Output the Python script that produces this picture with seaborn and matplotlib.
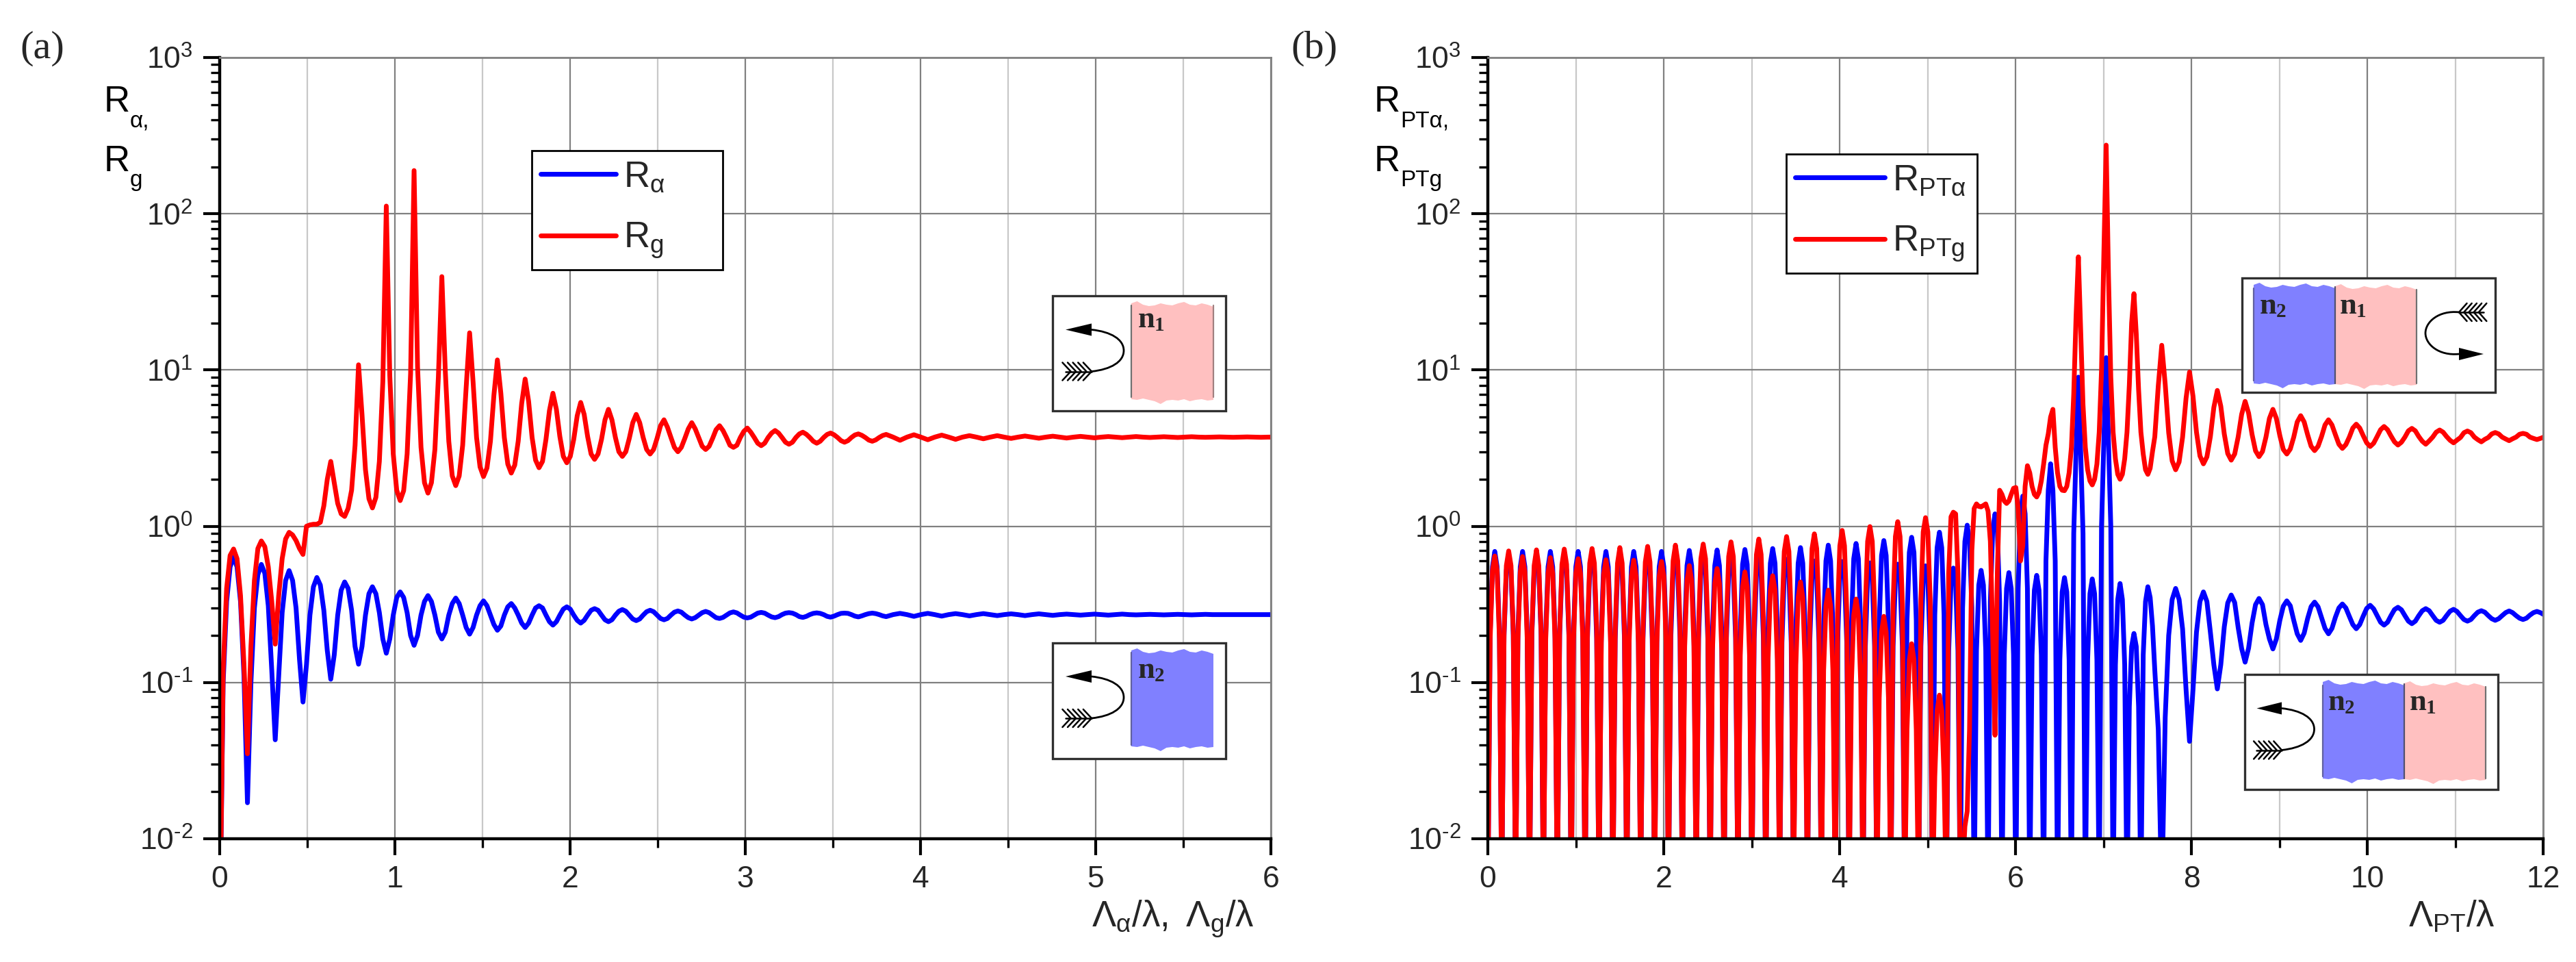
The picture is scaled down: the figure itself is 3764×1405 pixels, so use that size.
from matplotlib.path import Path as MplPath
from matplotlib.patches import PathPatch, Rectangle
from matplotlib.ticker import LogLocator, MultipleLocator, NullFormatter
import matplotlib
matplotlib.use("Agg")
import matplotlib.pyplot as plt
import numpy as np
import seaborn as sns

W, H = 3764, 1405
BLUE, RED = "#0000ff", "#ff0000"

y_ticks = [1e-2, 1e-1, 1e0, 1e1, 1e2, 1e3]
y_tick_labels = [r"$\mathregular{10^{\text{-}2}}$", r"$\mathregular{10^{\text{-}1}}$", r"$\mathregular{10^{0}}$",
                 r"$\mathregular{10^{1}}$", r"$\mathregular{10^{2}}$", r"$\mathregular{10^{3}}$"]
x_ticks_a = [0, 1, 2, 3, 4, 5, 6]
x_ticks_b = [0, 2, 4, 6, 8, 10, 12]

# panel (a), one row per oscillation, 8 samples each up to x = 3.804, then 4 each
r_alpha = [
    .002, .10, .33, .55, .635, .55, .33, .11,
    .017, .10, .30, .49, .57, .50, .31, .12,
    .043, .11, .28, .45, .52, .45, .30, .14,
    .075, .13, .27, .41, .47, .42, .29, .16,
    .105, .15, .27, .39, .44, .40, .29, .17,
    .131, .17, .27, .37, .41, .37, .28, .19,
    .154, .19, .27, .35, .38, .35, .28, .20,
    .173, .20, .27, .33, .36, .33, .27, .21,
    .19, .21, .27, .32, .347, .32, .27, .225,
    .204, .225, .27, .31, .333, .31, .27, .235,
    .216, .23, .27, .305, .32, .30, .27, .24,
    .225, .24, .27, .30, .31, .30, .27, .245,
    .233, .245, .27, .295, .305, .295, .27, .25,
    .24, .25, .27, .29, .297, .29, .27, .252,
    .245, .252, .27, .286, .293, .286, .27, .255,
    .249, .255, .27, .284, .29, .284, .27, .257,
    .252, .257, .27, .282, .287, .282, .27, .26,
    .255, .26, .27, .28, .285, .28, .27, .26,
    .257, .261, .27, .279, .283, .279, .27, .262,
    .259, .262, .27, .278, .281, .278, .27, .263,
    .26, .264, .272, .278, .28, .278, .272, .264,
    .261, .265, .272, .277, .279, .277, .272, .265,
    .262, .266, .272, .277, .278, .277, .272, .266,
    .263, .267, .272, .276, .278, .276, .272, .267,
]
r_alpha_tail = [
    .264, .272, .277, .272, .265, .272, .277, .272, .266, .272, .276, .272,
    .267, .272, .276, .272, .268, .272, .275, .272, .268, .272, .275, .272,
    .269, .272, .274, .272, .27, .272, .274, .272, .27, .272, .274, .272,
    .271, .272, .273, .272, .271, .272, .273, .272, .271, .272, .273, .272,
    .272, .272, .272, .272, .272, .272, .272, .272, .272,
]
r_g = [
    .002, .12, .40, .65, .715, .62, .36, .13,
    .035, .17, .45, .72, .805, .74, .55, .33,
    .176, .36, .62, .83, .914, .88, .81, .72,
    .66, 1.0, 1.02, 1.03, 1.03, 1.06, 1.35, 2.0,
    2.6, 1.9, 1.4, 1.2, 1.156, 1.3, 1.7, 3.3,
    10.8, 5.2, 2.3, 1.5, 1.31, 1.53, 2.6, 8.4,
    112, 9.2, 2.9, 1.7, 1.46, 1.69, 2.9, 9.5,
    189, 10.5, 3.2, 1.9, 1.63, 1.9, 3.1, 9,
    39.6, 9.8, 3.5, 2.1, 1.82, 2.1, 3.3, 7.7,
    17.3, 8.4, 3.7, 2.4, 2.08, 2.36, 3.5, 6.9,
    11.6, 7.1, 3.7, 2.5, 2.19, 2.46, 3.5, 6.1,
    8.75, 6.3, 3.7, 2.65, 2.37, 2.6, 3.6, 5.5,
    7.1, 5.6, 3.75, 2.8, 2.55, 2.8, 3.6, 5.1,
    6.2, 5.2, 3.75, 2.9, 2.68, 2.9, 3.6, 4.8,
    5.6, 4.8, 3.7, 3.0, 2.8, 3.0, 3.65, 4.6,
    5.2, 4.6, 3.7, 3.1, 2.9, 3.1, 3.65, 4.4,
    4.8, 4.3, 3.7, 3.2, 3.0, 3.2, 3.65, 4.2,
    4.6, 4.2, 3.7, 3.25, 3.1, 3.25, 3.65, 4.15,
    4.4, 4.1, 3.7, 3.3, 3.2, 3.3, 3.7, 4.05,
    4.25, 4.0, 3.7, 3.4, 3.28, 3.4, 3.7, 3.95,
    4.1, 3.95, 3.7, 3.45, 3.35, 3.45, 3.7, 3.9,
    4.0, 3.88, 3.7, 3.5, 3.4, 3.5, 3.7, 3.87,
    3.95, 3.85, 3.7, 3.53, 3.45, 3.53, 3.7, 3.84,
    3.9, 3.82, 3.7, 3.56, 3.5, 3.57, 3.7, 3.81,
]
r_g_tail = [
    3.87, 3.72, 3.55, 3.72, 3.85, 3.72, 3.58, 3.72, 3.83, 3.72, 3.6, 3.72,
    3.8, 3.72, 3.63, 3.72, 3.8, 3.72, 3.65, 3.72, 3.78, 3.72, 3.66, 3.72,
    3.77, 3.72, 3.67, 3.72, 3.76, 3.72, 3.68, 3.72, 3.75, 3.72, 3.69, 3.72,
    3.75, 3.72, 3.7, 3.72, 3.74, 3.72, 3.7, 3.72, 3.74, 3.72, 3.71, 3.72,
    3.73, 3.72, 3.71, 3.72, 3.73, 3.72, 3.71, 3.72, 3.72,
]

# panel (b), one row per arch, 6 samples each up to x = 7.584, then 8 per period
r_pt_alpha = [
    .004, .21, .55, .69, .55, .21,
    .004, .2, .52, .65, .52, .2,
    .004, .21, .55, .69, .55, .21,
    .004, .2, .52, .65, .52, .2,
    .004, .21, .55, .69, .55, .21,
    .004, .2, .52, .65, .52, .2,
    .004, .21, .55, .69, .55, .21,
    .004, .19, .52, .645, .52, .19,
    .004, .21, .55, .69, .55, .21,
    .004, .19, .51, .64, .51, .19,
    .004, .21, .55, .69, .55, .21,
    .004, .19, .51, .64, .51, .19,
    .004, .21, .55, .69, .55, .21,
    .004, .19, .51, .64, .51, .19,
    .004, .21, .56, .70, .56, .21,
    .004, .19, .51, .635, .51, .19,
    .004, .21, .56, .705, .56, .21,
    .004, .19, .5, .63, .5, .19,
    .004, .21, .57, .71, .57, .21,
    .004, .19, .5, .625, .5, .19,
    .004, .22, .58, .72, .58, .22,
    .004, .18, .49, .615, .49, .18,
    .004, .22, .58, .73, .58, .22,
    .004, .18, .48, .60, .48, .18,
    .004, .23, .6, .757, .6, .23,
    .004, .18, .48, .595, .48, .18,
    .004, .23, .62, .776, .62, .23,
    .004, .17, .47, .583, .47, .17,
    .004, .24, .65, .81, .65, .24,
    .004, .17, .46, .572, .46, .17,
    .004, .25, .68, .85, .68, .25,
    .004, .17, .45, .558, .45, .17,
    .004, .27, .73, .916, .73, .27,
    .004, .16, .43, .54, .43, .16,
    .004, .3, .8, 1.016, .8, .3,
    .004, .16, .42, .522, .42, .16,
    .004, .33, .95, 1.2, .95, .33,
    .004, .15, .4, .505, .4, .15,
    .004, .4, 1.2, 1.56, 1.2, .4,
    .004, .15, .39, .485, .39, .15,
    .004, .6, 1.7, 2.51, 1.7, .6,
    .004, .14, .38, .469, .38, .14,
    .004, .9, 3.0, 9.0, 3.0, .9,
    .004, .14, .37, .46, .37, .14,
    .004, 1.0, 3.5, 12, 3.5, 1.0,
    .004, .13, .34, .43, .34, .13,
    .004, .07, .17, .206, .17, .07,
    .004, .15, .33, .41, .35, .23,
]
r_pt_alpha_tail = [
    .12, .05, .004, .06, .2, .34, .40, .34,
    .22, .09, .042, .09, .21, .33, .38, .33,
    .21, .13, .091, .13, .227, .323, .363, .325,
    .225, .165, .135, .166, .24, .315, .345, .315,
    .235, .19, .164, .19, .25, .308, .333, .31,
    .25, .205, .186, .207, .257, .306, .327, .305,
    .26, .222, .205, .222, .262, .30, .318, .30,
    .265, .235, .221, .235, .266, .298, .312, .296,
    .268, .243, .233, .243, .268, .293, .303, .292,
    .268, .247, .238, .247, .268, .288, .297, .288,
    .268, .25, .243, .25, .268, .286, .294, .285,
    .268, .253, .247, .253, .268, .282, .288, .282,
    .268, .256, .25, .256, .268, .28, .287, .28,
    .268, .258, .253, .258, .27, .28, .285, .28,
    .272,
]
r_pt_g = [
    .004, .19, .52, .645, .52, .19,
    .004, .21, .56, .695, .56, .21,
    .004, .19, .51, .64, .51, .19,
    .004, .21, .56, .706, .56, .21,
    .004, .19, .5, .63, .5, .19,
    .004, .21, .57, .714, .57, .21,
    .004, .19, .5, .62, .5, .19,
    .004, .22, .58, .72, .58, .22,
    .004, .18, .49, .61, .49, .18,
    .004, .22, .58, .73, .58, .22,
    .004, .18, .48, .606, .48, .18,
    .004, .22, .59, .743, .59, .22,
    .004, .18, .48, .595, .48, .18,
    .004, .23, .6, .757, .6, .23,
    .004, .17, .45, .56, .45, .17,
    .004, .23, .62, .769, .62, .23,
    .004, .16, .43, .536, .43, .16,
    .004, .24, .64, .794, .64, .24,
    .004, .15, .41, .51, .41, .15,
    .004, .25, .66, .828, .66, .25,
    .004, .14, .39, .482, .39, .14,
    .004, .26, .69, .859, .69, .26,
    .004, .13, .35, .44, .35, .13,
    .004, .27, .72, .894, .72, .27,
    .004, .12, .31, .39, .31, .12,
    .004, .28, .75, .94, .75, .28,
    .004, .1, .27, .342, .27, .1,
    .004, .3, .8, .995, .8, .3,
    .004, .08, .21, .265, .21, .08,
    .004, .32, .86, 1.07, .86, .32,
    .004, .05, .14, .177, .14, .05,
    .004, .34, .92, 1.135, .92, .34,
    .004, .025, .066, .083, .066, .025,
    .004, .5, 1.15, 1.23, 1.2, .5,
    .004, .006, .012, .015, .05, .7,
    1.3, 1.39, 1.34, 1.33, 1.36, 1.39,
    1.25, .8, .2, .046, .5, 1.7,
    1.6, 1.45, 1.4, 1.45, 1.6, 1.75,
    1.77, 1.3, .6, .75, 1.8, 2.44,
    2.2, 1.8, 1.6, 1.54, 1.65, 1.95,
    2.5, 3.3, 3.9, 5.0, 5.6, 3.2,
    2.2, 1.8, 1.7, 1.69, 1.8, 2.2,
    3.2, 7, 22, 53, 18, 6,
    3.2, 2.3, 1.95, 1.84, 2.0, 2.5,
    4, 10, 55, 275, 40, 9,
    4, 2.7, 2.15, 2.0, 2.15, 2.7,
    4, 8, 20, 30.8, 17, 7.5,
    4, 2.9, 2.3, 2.15, 2.35, 3,
]
r_pt_g_tail = [
    3.74, 7.9, 14.4, 8.1, 3.97, 2.62, 2.3, 2.58,
    3.72, 6.6, 9.7, 6.8, 4.0, 2.82, 2.51, 2.78,
    3.75, 5.77, 7.4, 5.87, 3.9, 2.92, 2.65, 2.9,
    3.73, 5.2, 6.3, 5.3, 3.87, 3.04, 2.79, 3.01,
    3.72, 4.9, 5.6, 4.9, 3.8, 3.1, 2.9, 3.12,
    3.72, 4.65, 5.1, 4.65, 3.85, 3.25, 3.05, 3.25,
    3.75, 4.45, 4.8, 4.45, 3.85, 3.35, 3.15, 3.33,
    3.72, 4.25, 4.5, 4.25, 3.8, 3.42, 3.24, 3.4,
    3.75, 4.15, 4.35, 4.15, 3.78, 3.47, 3.31, 3.45,
    3.72, 4.08, 4.23, 4.08, 3.75, 3.5, 3.35, 3.52,
    3.72, 4.0, 4.13, 4.0, 3.75, 3.55, 3.42, 3.56,
    3.7, 3.97, 4.07, 3.97, 3.72, 3.58, 3.47, 3.6,
    3.7, 3.9, 3.98, 3.9, 3.72, 3.62, 3.53, 3.63,
    3.72, 3.88, 3.93, 3.88, 3.72, 3.65, 3.59, 3.65,
    3.72,
]

# sample positions of the traces above
x_a = np.r_[np.linspace(0, 3.804, 193)[:-1], np.linspace(3.804, 6.023, 57)]
x_b = np.r_[np.linspace(0, 7.584, 289)[:-1], np.linspace(7.584, 12.008, 113)]

sns.set_theme(style="ticks")
plt.rcParams["font.family"] = ["Liberation Sans", "DejaVu Sans"]
plt.rcParams["mathtext.fontset"] = "custom"
plt.rcParams["mathtext.rm"] = "Liberation Sans"
plt.rcParams["mathtext.it"] = "Liberation Sans"
plt.rcParams["mathtext.bf"] = "Liberation Sans:bold"


def style_axes(ax, x_max, x_ticks, x_minor):
    ax.set_yscale("log")
    ax.set_xlim(0, x_max)
    ax.set_ylim(1e-2, 1e3)
    ax.set_xticks(x_ticks)
    ax.set_xticklabels([str(t) for t in x_ticks])
    ax.set_yticks(y_ticks)
    ax.set_yticklabels(y_tick_labels)
    ax.xaxis.set_minor_locator(MultipleLocator(x_minor))
    ax.yaxis.set_minor_locator(LogLocator(base=10, subs=range(2, 10), numticks=12))
    ax.yaxis.set_minor_formatter(NullFormatter())
    ax.set_xlabel("")
    ax.set_ylabel("")
    ax.set_axisbelow(True)
    ax.grid(which="major", color="#808080", linewidth=0.8)
    ax.xaxis.grid(which="minor", color="#c8c8c8", linewidth=0.8)
    ax.yaxis.grid(which="minor", visible=False)
    ax.tick_params(which="major", length=8.8, width=1.5, color="black", labelsize=16, pad=5.4, left=True, bottom=True)
    ax.tick_params(which="minor", length=4.8, width=1.2, color="black", left=True, bottom=True)
    for side in ["left", "bottom"]:
        ax.spines[side].set_color("black")
        ax.spines[side].set_linewidth(1.6)
    for side in ["top", "right"]:
        ax.spines[side].set_visible(True)
        ax.spines[side].set_color("#808080")
        ax.spines[side].set_linewidth(1.0)


def add_r_label(ov, x, y, sub, size=19, sub_size=12):
    ov.text(x, y, "R", fontsize=size, ha="left", va="baseline", color="black")
    ov.text(x + 38, y + 22, sub, fontsize=sub_size, ha="left", va="baseline", color="black")


def add_slab(ov, x0, x1, y0, y1, color):
    top_wave = [-3, -6, -1, 1, 0, -3, -1, 0, -3, -5, -1, 0, -3, -1, 2]
    bottom_wave = [0, 1, -1, 1, 3, 7, 2, 1, 2, 0, 3, 1, 0, 2, 1]
    xs = np.linspace(x0, x1, len(top_wave))
    px = list(xs) + list(xs[::-1])
    py = [y0 + w for w in top_wave] + [y1 + w for w in bottom_wave[::-1]]
    ov.fill(px, py, color=color, linewidth=0, zorder=6)


def add_n(ov, x, y, digit):
    ov.text(x, y, "n", family="Liberation Serif", weight="bold", fontsize=16, ha="left", va="baseline", zorder=8)
    ov.text(x + 24, y + 5, digit, family="Liberation Serif", weight="bold", fontsize=10.5, ha="left", va="baseline", zorder=8)


def add_hook(ov, x_base, x_tip, x_apex, y_head, y_tail):
    y_mid = (y_head + y_tail) / 2
    dy = 0.27 * (y_tail - y_head)
    cx = x_base + 0.6 * (x_apex - x_base)
    verts = [(x_base, y_head), (cx, y_head + 3), (x_apex, y_mid - dy), (x_apex, y_mid),
             (x_apex, y_mid + dy), (cx, y_tail - 3), (x_base, y_tail)]
    codes = [MplPath.MOVETO] + [MplPath.CURVE4] * 6
    ov.add_patch(PathPatch(MplPath(verts, codes), fill=False, edgecolor="black", linewidth=1.0, zorder=8))
    ov.fill([x_tip, x_base, x_base], [y_head, y_head - 9, y_head + 9], color="black", linewidth=0, zorder=8)
    ov.plot([x_tip, x_base], [y_tail, y_tail], color="black", linewidth=0.9, zorder=8)
    step = (x_base - x_tip) / 5
    for i in range(5):
        xv = x_tip + step * (i + 1)
        ov.plot([xv - step * 1.6, xv, xv - step * 1.6], [y_tail - 13, y_tail, y_tail + 13],
                color="black", linewidth=0.9, zorder=8)


def add_box(ov, x0, x1, y0, y1):
    ov.add_patch(Rectangle((x0, y0), x1 - x0, y1 - y0, facecolor="white", edgecolor="#303030", linewidth=1.2, zorder=5))


fig = plt.figure(figsize=(W / 200, H / 200), dpi=200, facecolor="white")
ax_a = fig.add_axes([321 / W, 1 - 1225 / H, 1536 / W, 1141 / H])
ax_b = fig.add_axes([2174 / W, 1 - 1225 / H, 1542 / W, 1141 / H])

alpha_all = r_alpha + r_alpha_tail
g_all = r_g + r_g_tail
pt_alpha_all = r_pt_alpha + r_pt_alpha_tail
pt_g_all = r_pt_g + r_pt_g_tail

sns.lineplot(x=x_a, y=alpha_all, ax=ax_a, color=BLUE, linewidth=2.5, estimator=None, sort=False,
             label=r"$\mathregular{R_{α}}$")
sns.lineplot(x=x_a, y=g_all, ax=ax_a, color=RED, linewidth=2.5, estimator=None, sort=False,
             label=r"$\mathregular{R_{g}}$")
sns.lineplot(x=x_b, y=pt_alpha_all, ax=ax_b, color=BLUE, linewidth=2.5, estimator=None, sort=False,
             label=r"$\mathregular{R_{PTα}}$")
sns.lineplot(x=x_b, y=pt_g_all, ax=ax_b, color=RED, linewidth=2.5, estimator=None, sort=False,
             label=r"$\mathregular{R_{PTg}}$")

style_axes(ax_a, 6, x_ticks_a, 0.5)
style_axes(ax_b, 12, x_ticks_b, 1)

leg_a = ax_a.legend(loc="upper left", bbox_to_anchor=((777 - 321) / 1536, (1225 - 220) / 1141, 279 / 1536, 0),
                    mode="expand", borderaxespad=0, frameon=True, fancybox=False, framealpha=1, edgecolor="black",
                    fontsize=19, handlelength=2.08, labelspacing=0.75, handletextpad=0.2, borderpad=0.25)
leg_b = ax_b.legend(loc="upper left", bbox_to_anchor=((2610 - 2174) / 1542, (1225 - 225) / 1141, 279 / 1542, 0),
                    mode="expand", borderaxespad=0, frameon=True, fancybox=False, framealpha=1, edgecolor="black",
                    fontsize=19, handlelength=2.48, labelspacing=0.75, handletextpad=0.2, borderpad=0.25)
for leg in [leg_a, leg_b]:
    leg.get_frame().set_linewidth(1.0)

# overlay in reference pixels for labels and the small schematics
ov = fig.add_axes([0, 0, 1, 1], facecolor="none")
ov.set_xlim(0, W)
ov.set_ylim(H, 0)
ov.axis("off")

ov.text(29, 85, "(a)", family="Liberation Serif", fontsize=21, ha="left", va="baseline")
ov.text(1886, 85, "(b)", family="Liberation Serif", fontsize=21, ha="left", va="baseline")

add_r_label(ov, 152, 163, "α,")
add_r_label(ov, 152, 250, "g")
add_r_label(ov, 2008, 163, "PTα,")
add_r_label(ov, 2008, 250, "PTg")

ov.text(1833, 1354, r"$\mathregular{Λ_{α}/λ,\ Λ_{g}/λ}$", fontsize=19, ha="right", va="baseline")
ov.text(3646, 1354, r"$\mathregular{Λ_{PT}/λ}$", fontsize=19, ha="right", va="baseline")

PINK, VIOLET = "#ffc0c0", "#8080ff"

add_box(ov, 1538, 1791, 432, 600)
add_slab(ov, 1653, 1773, 446, 583, PINK)
ov.plot([1653, 1653], [446, 580], color="#707070", linewidth=0.8, zorder=7)
ov.plot([1773, 1773], [446, 580], color="#a08080", linewidth=0.8, zorder=7)
add_n(ov, 1663, 478, "1")
add_hook(ov, 1595, 1557, 1642, 481.5, 542.5)

add_box(ov, 1538, 1791, 938.5, 1107.5)
add_slab(ov, 1653, 1773, 953, 1090, VIOLET)
ov.plot([1653, 1653], [953, 1088], color="#6060a0", linewidth=0.8, zorder=7)
add_n(ov, 1663, 990, "2")
add_hook(ov, 1595, 1557, 1642, 988, 1049)

add_box(ov, 3276.5, 3646, 406, 573)
add_slab(ov, 3293, 3412, 419, 560, VIOLET)
add_slab(ov, 3412, 3531, 421, 561, PINK)
ov.plot([3293, 3293], [421, 556], color="#6060a0", linewidth=0.8, zorder=7)
ov.plot([3412, 3412], [419, 560], color="#505070", linewidth=0.8, zorder=7)
ov.plot([3531, 3531], [423, 560], color="#707070", linewidth=0.8, zorder=7)
add_n(ov, 3302, 458, "2")
add_n(ov, 3419, 458, "1")
add_hook(ov, 3593, 3629, 3544, 517, 456)

add_box(ov, 3280.5, 3650, 984.5, 1153)
add_slab(ov, 3394, 3513, 999, 1137, VIOLET)
add_slab(ov, 3513, 3632, 1001, 1138, PINK)
ov.plot([3394, 3394], [1001, 1134], color="#6060a0", linewidth=0.8, zorder=7)
ov.plot([3513, 3513], [999, 1137], color="#505070", linewidth=0.8, zorder=7)
ov.plot([3632, 3632], [1003, 1137], color="#707070", linewidth=0.8, zorder=7)
add_n(ov, 3402, 1037, "2")
add_n(ov, 3521, 1037, "1")
add_hook(ov, 3334, 3297.5, 3381.5, 1034.5, 1095.5)

fig.savefig("out.png", dpi=200, facecolor="white")
